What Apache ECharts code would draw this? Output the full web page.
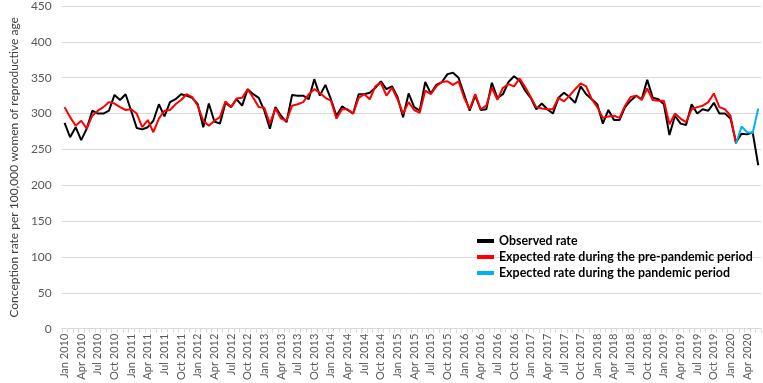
<!DOCTYPE html>
<html lang="en">
<head>
    <meta charset="UTF-8" />
    <title>Conception rate</title>
    <script src="https://cdn.jsdelivr.net/npm/echarts@6/dist/echarts.min.js"></script>
    <style>
        html, body { margin: 0; padding: 0; background: #fff; }
    </style>
</head>
<body>
    <div id="chart" style="width: 763px; height: 383px"></div>
    <script>
        // months Jan 2010 .. Jun 2020
        var monthNames = ["Jan", "Feb", "Mar", "Apr", "May", "Jun", "Jul", "Aug", "Sep", "Oct", "Nov", "Dec"];
        var years = [2010, 2011, 2012, 2013, 2014, 2015, 2016, 2017, 2018, 2019, 2020];
        var months = [];
        years.forEach(function (y) {
            monthNames.forEach(function (m) {
                months.push(m + " " + y);
            });
        });
        months = months.slice(0, 126);

        var yTicks = [0, 50, 100, 150, 200, 250, 300, 350, 400, 450];

        var observed = [
            287, 267, 281, 263, 279, 304, 300, 300, 304, 326, 319, 327,
            304, 280, 278, 281, 290, 313, 296, 316, 320, 327, 325, 322,
            313, 281, 314, 289, 286, 315, 309, 320, 311, 334, 327, 322,
            304, 279, 309, 297, 288, 326, 325, 325, 320, 348, 325, 340,
            320, 297, 310, 305, 300, 327, 327, 329, 336, 345, 334, 338,
            323, 295, 328, 309, 304, 344, 328, 340, 344, 355, 357, 350,
            327, 304, 325, 305, 306, 343, 322, 327, 344, 352, 346, 332,
            322, 306, 314, 306, 300, 322, 329, 323, 315, 338, 327, 320,
            313, 286, 305, 291, 291, 309, 318, 325, 320, 347, 322, 320,
            313, 270, 297, 286, 284, 313, 300, 306, 304, 315, 300, 300,
            293, 260, 272, 271, 274, 228
        ];

        // expected, pre-pandemic (Jan 2010 .. Feb 2020)
        var expectedPre = [
            309, 295, 283, 290, 279, 297, 304, 309, 316, 314, 309, 305,
            306, 300, 281, 291, 274, 293, 304, 305, 313, 319, 327, 323,
            311, 290, 283, 290, 295, 317, 309, 321, 322, 334, 322, 309,
            308, 286, 307, 293, 290, 311, 313, 316, 327, 334, 329, 322,
            318, 293, 306, 306, 300, 322, 327, 320, 338, 343, 325, 336,
            320, 300, 316, 305, 301, 332, 327, 338, 344, 345, 340, 345,
            322, 306, 327, 306, 311, 336, 319, 336, 341, 338, 349, 337,
            323, 309, 307, 306, 306, 322, 317, 325, 334, 342, 338, 320,
            309, 294, 296, 297, 294, 311, 323, 325, 319, 335, 319, 318,
            318, 285, 300, 293, 288, 306, 309, 311, 316, 328, 309, 306,
            297, 258
        ];

        // expected, pandemic (Feb 2020 .. Jun 2020)
        var expectedPandemic = [258, 282, 274, 273, 307];

        var preData = months.map(function (m, i) {
            return i < expectedPre.length ? expectedPre[i] : null;
        });
        var pandemicStart = expectedPre.length - 1;
        var pandemicData = months.map(function (m, i) {
            return i >= pandemicStart ? expectedPandemic[i - pandemicStart] : null;
        });

        var font = "Lato, 'Noto Sans', sans-serif";
        var chart = echarts.init(document.getElementById("chart"));

        var option = {
            animation: false,
            textStyle: { fontFamily: font },
            grid: { left: 54, right: 2, top: 4.5, bottom: 51 },
            legend: {
                orient: "vertical",
                left: 472,
                top: 229,
                itemWidth: 17,
                itemHeight: 4,
                itemGap: 2,
                icon: "rect",
                textStyle: {
                    fontFamily: font,
                    fontSize: 12.4,
                    fontWeight: "bold",
                    color: "#000",
                    lineHeight: 14
                },
                data: [
                    "Observed rate",
                    "Expected rate during the pre-pandemic period",
                    "Expected rate during the pandemic period"
                ]
            },
            xAxis: {
                type: "category",
                data: months,
                boundaryGap: true,
                axisLine: { lineStyle: { color: "#d9d9d9" } },
                axisTick: { show: true, interval: 0, length: 4, lineStyle: { color: "#d9d9d9" } },
                axisLabel: {
                    interval: 2,
                    rotate: 90,
                    fontSize: 11,
                    color: "#595959",
                    margin: 5,
                    fontFamily: font
                }
            },
            yAxis: {
                type: "value",
                min: yTicks[0],
                max: yTicks[yTicks.length - 1],
                interval: 50,
                name: "Conception rate per 100,000 women of reproductive age",
                nameLocation: "middle",
                nameGap: 38,
                nameTextStyle: { fontSize: 12, color: "#404040", fontFamily: font },
                axisLine: { show: false },
                axisTick: { show: false },
                axisLabel: { fontSize: 12, color: "#595959", margin: 10, fontFamily: font },
                splitLine: { lineStyle: { color: "#d9d9d9" } }
            },
            series: [
                {
                    name: "Observed rate",
                    type: "line",
                    data: observed,
                    symbol: "none",
                    color: "#000000",
                    lineStyle: { width: 2, color: "#000000" }
                },
                {
                    name: "Expected rate during the pre-pandemic period",
                    type: "line",
                    data: preData,
                    symbol: "none",
                    color: "#ff0000",
                    lineStyle: { width: 2, color: "#ff0000" }
                },
                {
                    name: "Expected rate during the pandemic period",
                    type: "line",
                    data: pandemicData,
                    symbol: "none",
                    color: "#00b0f0",
                    lineStyle: { width: 2, color: "#00b0f0" }
                }
            ]
        };
        chart.setOption(option);
    </script>
</body>
</html>
